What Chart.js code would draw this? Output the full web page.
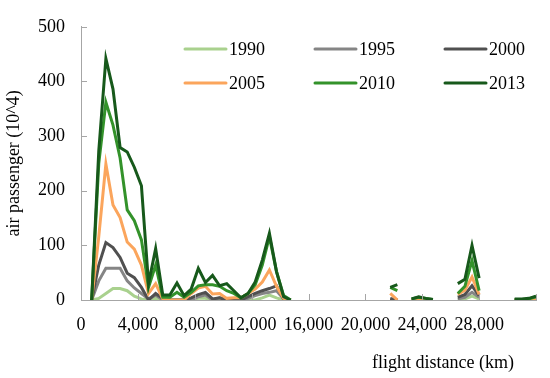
<!DOCTYPE html>
<html>
<head>
  <meta charset="utf-8" />
  <script src="https://cdn.jsdelivr.net/npm/chart.js"></script>
  <style>
    body { margin: 0; background: #fff; }
    #wrap { width: 550px; height: 378px; }
  </style>
</head>
<body>
<div id="wrap"><canvas id="paxChart" width="550" height="378"></canvas></div>
<script>
  // flight distance (km); the lone points between segments carry nulls so the lines break there
  var distance = [750, 1250, 1750, 2250, 2750, 3250, 3750, 4250, 4750, 5250,
    5750, 6250, 6750, 7250, 7750, 8250, 8750, 9250, 9750, 10250,
    10750, 11250, 11750, 12250, 12750, 13250, 13750, 14250, 14750,
    18000,
    21750, 22250,
    22800,
    23250, 23750, 24250, 24750,
    25700,
    26500, 27000, 27500, 28000,
    29000,
    30500, 31000, 31500, 32000];

  var years = ['1990', '1995', '2000', '2005', '2010', '2013'];
  var colors = ['#a9d18e', '#858585', '#505050', '#fba55c', '#33922a', '#17591b'];

  var pax1990 = [0, 3, 12, 21, 21, 17, 7, 2, 0, 3, 0, 0, 0, 0, 0, 3, 3, 0, 0, 0, 0, 0, 0, 0, 4, 9, 4, 0, 0,
    null, 0, 0, null, 0, 0, 0, 0, null, 0, 2, 7, 2, null, 0, 0, 0, 0];
  var pax1995 = [0, 35, 58, 58, 58, 35, 22, 12, 2, 9, 0, 0, 0, 0, 0, 6, 9, 0, 4, 0, 0, 0, 3, 8, 12, 14, 17, 2, 0,
    null, 0, 0, null, 0, 0, 0, 0, null, 2, 5, 14, 5, null, 0, 0, 0, 0];
  var pax2000 = [0, 64, 105, 96, 78, 49, 41, 23, 0, 12, 3, 0, 0, 0, 4, 10, 14, 2, 4, 0, 0, 0, 6, 12, 17, 21, 26, 2, 0,
    null, 3, 0, null, 0, 0, 0, 0, null, 5, 10, 26, 8, null, 0, 0, 0, 0];
  var pax2005 = [0, 116, 249, 174, 151, 106, 93, 64, 12, 30, 2, 0, 0, 0, 12, 22, 25, 11, 12, 3, 4, 4, 12, 20, 33, 55, 25, 3, 0,
    null, 12, 0, null, 0, 0, 0, 0, null, 10, 18, 42, 10, null, 0, 0, 0, 0];
  var pax2010 = [0, 250, 362, 320, 260, 165, 145, 110, 23, 64, 5, 5, 14, 5, 14, 26, 28, 28, 25, 17, 12, 4, 12, 28, 64, 116, 52, 8, 0,
    null, 23, 17, null, 2, 5, 3, 1, null, 12, 25, 72, 17, null, 1, 1, 2, 6];
  var pax2013 = [0, 273, 442, 386, 279, 271, 243, 209, 30, 94, 9, 9, 31, 8, 20, 58, 32, 45, 26, 30, 17, 4, 12, 33, 73, 122, 52, 6, 0,
    null, 23, 28, null, 2, 6, 3, 1, null, 30, 38, 100, 40, null, 2, 2, 3, 7];

  var yTicks = [0, 100, 200, 300, 400, 500];
  var xTicks = [0, 4000, 8000, 12000, 16000, 20000, 24000, 28000, 32000];

  var serif = 'Liberation Serif';
  var series = [pax1990, pax1995, pax2000, pax2005, pax2010, pax2013];

  var datasets = series.map(function (vals, i) {
    return {
      label: years[i],
      data: vals.map(function (v, j) { return { x: distance[j], y: v }; }),
      borderColor: colors[i],
      backgroundColor: colors[i],
      borderWidth: 3,
      pointRadius: 0,
      tension: 0,
      spanGaps: false,
      order: series.length - i   // later years drawn on top
    };
  });

  // inside tick marks, legend block and x title
  var extras = {
    id: 'extras',
    afterDraw: function (chart) {
      var ctx = chart.ctx;
      var xs = chart.scales.x, ys = chart.scales.y;
      var area = chart.chartArea;
      ctx.save();
      ctx.strokeStyle = '#a6a6a6';
      ctx.lineWidth = 1;
      ctx.beginPath();
      yTicks.forEach(function (t) {
        var py = Math.round(ys.getPixelForValue(t)) + 0.5;
        ctx.moveTo(area.left, py);
        ctx.lineTo(area.left + 6, py);
      });
      xTicks.forEach(function (t) {
        var px = Math.round(xs.getPixelForValue(t)) + 0.5;
        ctx.moveTo(px, area.bottom);
        ctx.lineTo(px, area.bottom - 6);
      });
      ctx.stroke();

      ctx.font = '18px "' + serif + '"';
      ctx.fillStyle = '#000';
      ctx.textBaseline = 'middle';
      var colX = [185, 315, 445], rowY = [49, 83];
      years.forEach(function (y, i) {
        var cx = colX[i % 3], cy = rowY[Math.floor(i / 3)];
        ctx.strokeStyle = colors[i];
        ctx.lineWidth = 3;
        ctx.lineCap = 'round';
        ctx.beginPath();
        ctx.moveTo(cx, cy);
        ctx.lineTo(cx + 41, cy);
        ctx.stroke();
        ctx.fillText(y, cx + 44, cy + 1);
      });

      ctx.textAlign = 'right';
      ctx.fillText('flight distance (km)', 514, 363);
      ctx.restore();
    }
  };

  new Chart(document.getElementById('paxChart'), {
    type: 'line',
    data: { datasets: datasets },
    plugins: [extras],
    options: {
      responsive: false,
      animation: false,
      layout: { padding: { top: 12, right: 8, left: 0, bottom: 0 } },
      plugins: {
        legend: { display: false },
        tooltip: { enabled: false }
      },
      scales: {
        x: {
          type: 'linear',
          min: 0,
          max: 32000,
          afterFit: function (s) { s.height = 78; },
          afterBuildTicks: function (s) { s.ticks = xTicks.map(function (v) { return { value: v }; }); },
          grid: { display: false, drawTicks: false },
          border: { color: '#a6a6a6' },
          ticks: {
            padding: 14,
            maxRotation: 0,
            autoSkip: false,
            color: '#000',
            font: { family: serif, size: 18 },
            callback: function (v) { return v === 32000 ? '' : v.toLocaleString('en-US'); }
          }
        },
        y: {
          min: 0,
          max: 500,
          afterFit: function (s) { s.width = 81; },
          afterBuildTicks: function (s) { s.ticks = yTicks.map(function (v) { return { value: v }; }); },
          grid: { display: false, drawTicks: false },
          border: { color: '#a6a6a6' },
          ticks: {
            padding: 16,
            color: '#000',
            font: { family: serif, size: 18 }
          },
          title: {
            display: true,
            text: 'air passenger (10^4)',
            color: '#000',
            font: { family: serif, size: 18 },
            padding: { top: 3, bottom: 0 }
          }
        }
      }
    }
  });
</script>
</body>
</html>
